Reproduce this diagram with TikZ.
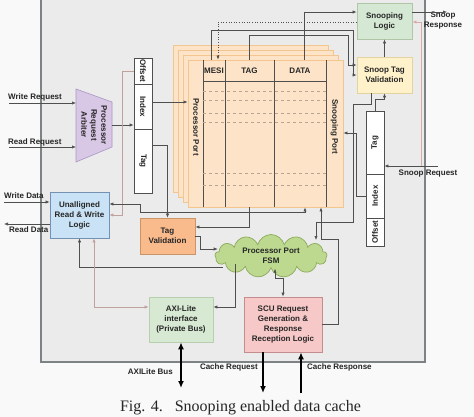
\documentclass[tikz,border=0pt]{standalone}
\usepackage{fontspec}
\setmainfont{Liberation Serif}
\newfontfamily\labelfont{Liberation Sans}
\usetikzlibrary{arrows.meta,shapes.symbols}

\definecolor{paper}{HTML}{F9F9F9}
\definecolor{panel}{HTML}{EBEBEB}
\definecolor{frame}{HTML}{7D8285}
\definecolor{wirecol}{HTML}{4F4F4F}
\definecolor{rosy}{HTML}{BFA29E}
\definecolor{pinkline}{HTML}{D9AAAA}
\definecolor{ink}{HTML}{262626}
\definecolor{arbfill}{HTML}{D9C7E6}
\definecolor{arbedge}{HTML}{A996C2}
\definecolor{cachefill}{HTML}{FDE4C8}
\definecolor{cacheedge}{HTML}{F2C68E}
\definecolor{rowline}{HTML}{B9A58F}
\definecolor{tvfill}{HTML}{F9BA8C}
\definecolor{tvedge}{HTML}{C99468}
\definecolor{fsmfill}{HTML}{BCD98F}
\definecolor{fsmedge}{HTML}{8CAA5C}
\definecolor{scufill}{HTML}{F7C8C8}
\definecolor{scuedge}{HTML}{C48C8C}
\definecolor{axifill}{HTML}{D7E9D3}
\definecolor{axiedge}{HTML}{B6CFAE}
\definecolor{ualfill}{HTML}{CAE2F5}
\definecolor{ualedge}{HTML}{7491B2}
\definecolor{slfill}{HTML}{D5E8D4}
\definecolor{sledge}{HTML}{AFC7A7}
\definecolor{stfill}{HTML}{FFF1C9}
\definecolor{stedge}{HTML}{E3D39E}

\tikzset{
  >={Latex[length=4pt,width=3.2pt]},
  lbl/.style={font=\labelfont\bfseries\fontsize{8}{10}\selectfont, text=ink, inner sep=1pt},
  blk/.style={lbl, draw, line width=0.7pt, align=center, inner sep=0pt},
  regbox/.style={lbl, draw=wirecol, line width=0.7pt, fill=white, minimum height=18pt, inner sep=0pt},
  wire/.style={draw=wirecol, line width=0.6pt, ->},
  wirebi/.style={draw=wirecol, line width=0.6pt, <->},
  bus/.style={draw=black, line width=1.8pt, -{Latex[length=7pt,width=6pt]}},
}

\begin{document}
\begin{tikzpicture}[x=1pt,y=-1pt]
        \useasboundingbox (0,0) rectangle (474,417);
        \fill[paper] (0,0) rectangle (474,417);
        % Draw the cache controller frame
        \filldraw[fill=panel, draw=frame, line width=1.2pt] (41,-5) rectangle (425,362);

        % Draw the processor request arbiter
        \filldraw[fill=arbfill, draw=arbedge, line width=0.6pt] (76,89) coordinate (arbNW) -- (112,102) -- (112,147) -- (76,162) -- cycle;
        \node[lbl, rotate=-90, align=center] (arb) at (94,125) {Processor\\Request\\Arbiter};
        \coordinate (arbE) at (112,125);

        % Draw the processor address fields
        \node[regbox, rotate=-90, minimum width=26pt] (offL) at (143,71) {Offset};
        \node[regbox, rotate=-90, minimum width=45pt] (idxL) at (143,106.5) {Index};
        \node[regbox, rotate=-90, minimum width=64pt] (tagL) at (143,161) {Tag};

        % Draw the cache array (stacked ways)
        \foreach \d in {15,10,5}
            \filldraw[fill=cachefill, draw=cacheedge, line width=0.8pt] (188-\d,60-\d) rectangle (343-\d,207-\d);
        \node[fill=cachefill, draw=cacheedge, line width=0.8pt, minimum width=155pt, minimum height=147pt, inner sep=0pt] (arr) at (265.5,133.5) {};
        \foreach \x in {203,225,274,326}
            \draw[wirecol, line width=0.6pt] (\x,60) -- (\x,207);
        \draw[wirecol, line width=0.6pt] (203,81) -- (326,81);
        \foreach \y in {91,100,113,122,173,185}
            \draw[rowline, dashed, line width=0.4pt] (203,\y) -- (326,\y);
        \node[lbl, inner sep=0pt] (mesi) at (214,71) {MESI};
        \node[lbl] (tagc) at (249.5,71) {TAG};
        \node[lbl] (datac) at (300,71) {DATA};
        \node[lbl, rotate=-90] (pport) at (196,127) {Processor Port};
        \node[lbl, rotate=-90] (sport) at (334.5,127) {Snooping Port};

        % Draw the functional blocks
        \node[blk, fill=ualfill, draw=ualedge, minimum width=59pt, minimum height=46pt] (ual) at (79.5,215) {Unalligned\\Read \& Write\\Logic};
        \node[blk, fill=tvfill, draw=tvedge, minimum width=55pt, minimum height=36pt] (tagval) at (167.5,236) {Tag\\Validation};
        \node[cloud, cloud puffs=13, cloud ignores aspect, fill=fsmfill, draw=fsmedge, line width=0.7pt, minimum width=112pt, minimum height=43pt, lbl, align=center] (fsm) at (271,256) {Processor Port\\FSM};
        \node[blk, fill=axifill, draw=axiedge, minimum width=64pt, minimum height=45pt] (axi) at (181,319.5) {AXI-Lite\\interface\\(Private Bus)};
        \node[blk, fill=scufill, draw=scuedge, minimum width=78pt, minimum height=55pt] (scu) at (283,324.5) {SCU Request\\Generation \&\\Response\\Reception Logic};
        \node[blk, fill=slfill, draw=sledge, minimum width=55pt, minimum height=36pt] (snlog) at (384.5,21) {Snooping\\Logic};
        \node[blk, fill=stfill, draw=stedge, minimum width=55pt, minimum height=36pt] (sntag) at (384.5,75) {Snoop Tag\\Validation};

        % Draw the snoop address fields
        \node[regbox, rotate=90, minimum width=63pt] (tagR) at (375,142.5) {Tag};
        \node[regbox, rotate=90, minimum width=44pt] (idxR) at (375,196) {Index};
        \node[regbox, rotate=90, minimum width=28pt] (offR) at (375,232) {Offset};

        % Label the external signals
        \node[lbl, anchor=west] (wrreq) at (7,97) {Write Request};
        \node[lbl, anchor=west] (rdreq) at (7,142) {Read Request};
        \node[lbl, anchor=west] (wrdat) at (3,196) {Write Data};
        \node[lbl, anchor=west] (rddat) at (8,230) {Read Data};
        \node[lbl] (snreq) at (428,174) {Snoop Request};
        \node[lbl, align=center] (snresp) at (443,21) {Snoop\\Response};
        \node[lbl, anchor=east] (axibus) at (174,372) {AXILite Bus};
        \node[lbl, anchor=east] (creq) at (259,367) {Cache Request};
        \node[lbl, anchor=west] (cresp) at (306,367) {Cache Response};
        \node[font=\fontsize{16}{18}\selectfont, text=ink, anchor=base] (cap) at (240.5,411) {Fig. 4.\hspace{0.75em}Snooping enabled data cache};

        % Free ends and port points
        \coordinate (wrin) at (9,103);
        \coordinate (rdin) at (9,147);
        \coordinate (wdin) at (4,202);
        \coordinate (rdout) at (4,224);
        \coordinate (snin) at (438,166);
        \coordinate (snsplit) at (421,166);
        \coordinate (snout) at (447,12);
        \coordinate (axiend) at (181,388);
        \coordinate (creqend) at (263,393);
        \coordinate (crespend) at (301,393);
        \coordinate (fIn) at (316,240);
        \path ([yshift=4.5pt]idxL.north) coordinate (ixo);
        \path (arr.south) ++(39.5,0) coordinate (dIn) ++(16,0) coordinate (sIn);
        \path (arr.north) ++(38.5,0) coordinate (dOut);
        \path (arr.north) ++(-47.5,0) coordinate (mIn) ++(-7,0) coordinate (mOut);

        % Processor side connections
        \draw[wire] (wrin) -- (wrin -| arbNW);
        \draw[wire] (rdin) -- (rdin -| arbNW);
        \draw[wire] (arbE) -- (arbE -| idxL.south);
        \draw[wire] (ixo) -- (ixo -| arr.west);
        \draw[wire, draw=rosy] (offL.south) -- ++(-11,0) |- (ual.east);
        \draw[wire] ([yshift=16pt]tagL.north) -| (tagval.north);
        \draw[wirebi] ([yshift=11pt]ual.east) -| (140,212) -| (dIn);
        \draw[wire] (tagc |- arr.south) |- ([yshift=9pt]tagval.east);
        \draw[wire] (tagval.east) -- ++(5,0) |- ([xshift=3pt,yshift=7pt]fsm.west);
        \draw[wire] ([xshift=8pt,yshift=-11pt]fsm.west) -| (ual.south);
        \draw[wire] ([xshift=-36pt,yshift=5pt]fsm.south) |- ([yshift=12.5pt]axi.east);
        \draw[wirebi, draw=rosy] ([yshift=12.5pt]axi.west) -| ([xshift=14.5pt]ual.south);
        \draw[wirebi] ([xshift=4pt]fsm.south) -- ++(0,10) -| (scu.north);
        \draw[wire] (scu.east) -| (338,239) -| (sIn);
        \draw[wire] (wdin) -- (wdin -| ual.west);
        \draw[wire] (rdout -| ual.west) -- (rdout);

        % Snoop side connections
        \draw[wire] (dOut) |- ([yshift=9pt]snlog.west);
        \draw[wire, dotted] ([yshift=-1pt]snlog.west) -| (mIn);
        \draw[wire] (mOut) |- (353,30) |- (sntag.west);
        \draw[wire] (tagc |- arr.north) |- (348,35) |- ([yshift=10pt]sntag.west);
        \draw[wire] (sntag.north) -- (snlog.south);
        \draw[wire] ([xshift=-13.5pt]sntag.south) |- (353,104) |- (316,222) -- (fIn);
        \draw[wire] (idxR.north) -- ++(-9,0) |- ([yshift=0.5pt]arr.east);
        \draw[wire] (tagR.east) -- ++(0,-11) -| (sntag.south);
        \draw[wire] (snin) -- (snin -| tagR.south);
        \draw[wire, draw=pinkline] (snsplit) |- ([yshift=-1pt]snlog.east);
        \draw[wire] ([yshift=9pt]snlog.east) -- (snout);

        % External buses
        \draw[bus, {Latex[length=7pt,width=6pt]}-{Latex[length=7pt,width=6pt]}] (axi.south) -- (axiend);
        \draw[bus] (scu.south -| creqend) -- (creqend);
        \draw[bus] (crespend) -- (scu.south -| crespend);
    \end{tikzpicture}
\end{document}
